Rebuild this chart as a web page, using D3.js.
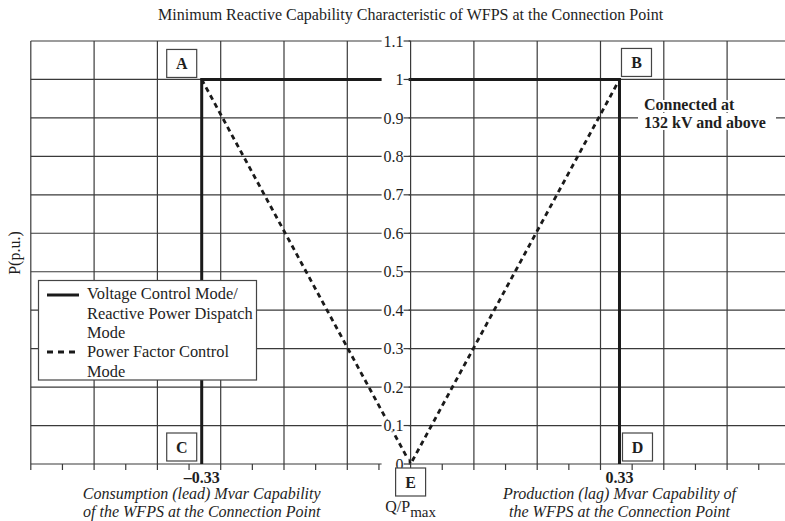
<!DOCTYPE html>
<html><head><meta charset="utf-8">
<script src="https://cdn.jsdelivr.net/npm/d3@7"></script>
<style>
body{margin:0;background:#fff;}
svg{display:block;font-family:"Liberation Serif","Times New Roman",serif;}
</style>
</head><body>
<svg id="chart" width="785" height="521"></svg>
<script>
// ---------- data ----------
const chartTitle = "Minimum Reactive Capability Characteristic of WFPS at the Connection Point";
const yAxisLabel = "P(p.u.)";
const yTickValues = [0, 0.1, 0.2, 0.3, 0.4, 0.5, 0.6, 0.7, 0.8, 0.9, 1, 1.1];
const yTickLabels = ["0", "0.1", "0.2", "0.3", "0.4", "0.5", "0.6", "0.7", "0.8", "0.9", "1", "1.1"];
const xGridValues = [-0.6, -0.5, -0.4, -0.3, -0.2, -0.1, 0, 0.1, 0.2, 0.3, 0.4, 0.5, 0.6];
const xMinorTickValues = [-0.6, -0.55, -0.5, -0.45, -0.4, -0.35, -0.3, -0.25, -0.2, -0.15, -0.1, -0.05, 0,
  0.05, 0.1, 0.15, 0.2, 0.25, 0.3, 0.35, 0.4, 0.45, 0.5, 0.55, 0.6];
// Voltage Control Mode / Reactive Power Dispatch Mode (solid)
const voltageQ = [-0.33, -0.33, 0.33, 0.33];
const voltageP = [0, 1, 1, 0];
// Power Factor Control Mode (dashed)
const pfQ = [-0.33, 0, 0.33];
const pfP = [1, 0, 1];
// Corner point labels
const pointNames = ["A", "B", "C", "D", "E"];
const pointQ = [-0.33, 0.33, -0.33, 0.33, 0];
const pointP = [1, 1, 0, 0, 0];
// Limit labels on the x axis
const limitValues = [-0.33, 0.33];
const limitLabels = ["\u20130.33", "0.33"];
const legendLabels = [["Voltage Control Mode/", "Reactive Power Dispatch", "Mode"], ["Power Factor Control", "Mode"]];
const noteLines = ["Connected at", "132 kV and above"];
const leftCaption = ["Consumption (lead) Mvar Capability", "of the WFPS at the Connection Point"];
const rightCaption = ["Production (lag) Mvar Capability of", "the WFPS at the Connection Point"];

// ---------- layout ----------
const svg = d3.select("#chart");
const x = d3.scaleLinear().domain([-0.6, 0.6]).range([30.8, 790.4]);
const y = d3.scaleLinear().domain([0, 1.1]).range([464, 41]);
const gridColor = "#3a3a3a", lineColor = "#1a1a1a", textColor = "#1e1e1e";

// title
svg.append("text").attr("x", x(0)).attr("y", 20).attr("text-anchor", "middle")
  .attr("font-size", 16).attr("fill", textColor).text(chartTitle);

// y label
svg.append("text").attr("transform", "translate(20,253) rotate(-90)").attr("text-anchor", "middle")
  .attr("font-size", 16).attr("fill", textColor).text(yAxisLabel);

const grid = svg.append("g").attr("stroke", gridColor).attr("stroke-width", 1.2);
// horizontal grid
grid.selectAll("line.h").data(yTickValues).join("line")
  .attr("x1", x(-0.6)).attr("x2", 785).attr("y1", d => y(d)).attr("y2", d => y(d));
// vertical grid
grid.selectAll("line.v").data(xGridValues).join("line")
  .attr("x1", d => x(d)).attr("x2", d => x(d)).attr("y1", y(1.1)).attr("y2", y(0));
// minor ticks below axis
grid.selectAll("line.t").data(xMinorTickValues).join("line")
  .attr("x1", d => x(d)).attr("x2", d => x(d)).attr("y1", y(0)).attr("y2", y(0) + 6);

// note white band (covers horizontal grid)
const noteG = svg.append("g");
noteG.append("rect").attr("x", 638).attr("y", y(0.9) - 5).attr("width", 138).attr("height", 10).attr("fill", "#fff");

// data lines
const line = d3.line().x(d => x(d[0])).y(d => y(d[1]));
svg.append("path").datum(voltageQ.map((q, i) => [q, voltageP[i]]))
  .attr("d", line).attr("fill", "none").attr("stroke", lineColor).attr("stroke-width", 3)
  .attr("stroke-linejoin", "miter");
svg.append("path").datum(pfQ.map((q, i) => [q, pfP[i]]))
  .attr("d", line).attr("fill", "none").attr("stroke", lineColor).attr("stroke-width", 2.8)
  .attr("stroke-dasharray", "5,4");

// y tick labels on central axis
const yLab = svg.append("g");
yTickValues.forEach((v, i) => {
  yLab.append("rect").attr("x", x(0) - 29).attr("y", y(v) - 6).attr("width", 27).attr("height", 12).attr("fill", "#fff");
  yLab.append("text").attr("x", x(0) - 7).attr("y", y(v)).attr("dy", "0.35em")
    .attr("text-anchor", "end").attr("font-size", 16).attr("fill", textColor).text(yTickLabels[i]);
  yLab.append("line").attr("x1", x(0) - 7).attr("x2", x(0)).attr("y1", y(v)).attr("y2", y(v))
    .attr("stroke", gridColor).attr("stroke-width", 1.2);
});

// note text
const nt = noteG.append("text").attr("font-size", 16).attr("font-weight", "bold").attr("fill", textColor)
  .attr("stroke", "#fff").attr("stroke-width", 4).attr("paint-order", "stroke");
noteLines.forEach((s, i) => nt.append("tspan").attr("x", 644).attr("y", 110 + i * 17.5).text(s));

// point boxes
const offsets = {A: [-20, -16], B: [17, -17], C: [-20, -17], D: [18, -17], E: [0, 18]};
pointNames.forEach((n, i) => {
  const cx = x(pointQ[i]) + offsets[n][0], cy = y(pointP[i]) + offsets[n][1];
  svg.append("rect").attr("x", cx - 15).attr("y", cy - 14).attr("width", 30).attr("height", 28)
    .attr("fill", "#fff").attr("stroke", "#444").attr("stroke-width", 1.2);
  svg.append("text").attr("x", cx).attr("y", cy).attr("dy", "0.35em").attr("text-anchor", "middle")
    .attr("font-size", 16).attr("font-weight", "bold").attr("fill", textColor).text(n);
});

// limit labels
limitValues.forEach((v, i) => {
  svg.append("text").attr("x", x(v)).attr("y", 483).attr("text-anchor", "middle")
    .attr("font-size", 16).attr("font-weight", "bold").attr("fill", textColor).text(limitLabels[i]);
});

// captions
[[leftCaption, -0.33], [rightCaption, 0.33]].forEach(([lines, v]) => {
  lines.forEach((s, i) => svg.append("text").attr("x", x(v)).attr("y", 499 + i * 17.5)
    .attr("text-anchor", "middle").attr("font-size", 16).attr("font-style", "italic")
    .attr("fill", textColor).text(s));
});

// Q/Pmax
const qp = svg.append("text").attr("x", x(0)).attr("y", 512).attr("text-anchor", "middle")
  .attr("font-size", 16).attr("fill", textColor);
qp.append("tspan").text("Q/P");
qp.append("tspan").attr("dy", 5).attr("font-size", 15).text("max");

// legend
const lg = svg.append("g");
lg.append("rect").attr("x", 38.5).attr("y", 280.5).attr("width", 218).attr("height", 99.5)
  .attr("fill", "#fff").attr("stroke", "#444").attr("stroke-width", 1.2);
lg.append("line").attr("x1", 47).attr("x2", 79).attr("y1", 295).attr("y2", 295)
  .attr("stroke", lineColor).attr("stroke-width", 3);
lg.append("line").attr("x1", 47).attr("x2", 79).attr("y1", 352).attr("y2", 352)
  .attr("stroke", lineColor).attr("stroke-width", 3).attr("stroke-dasharray", "6,5");
const baselines = [[299, 319, 338], [357, 377]];
legendLabels.forEach((ls, j) => ls.forEach((s, i) => lg.append("text").attr("x", 87).attr("y", baselines[j][i])
  .attr("font-size", 16.4).attr("fill", textColor).text(s)));
</script>
</body></html>
